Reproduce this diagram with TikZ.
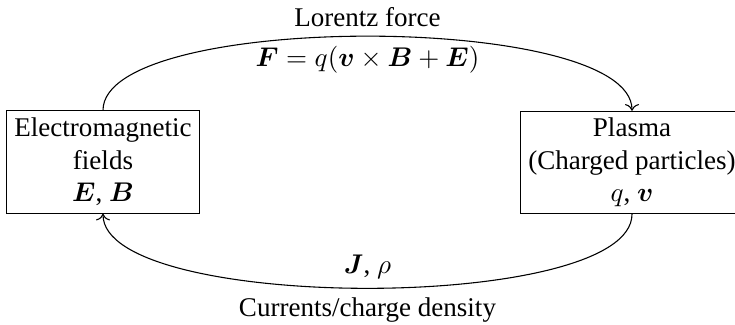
\documentclass[tikz,border=0pt]{standalone}
\usepackage{amsmath}
\usepackage{fontspec}
\setmainfont{Liberation Serif}
\usetikzlibrary{arrows.meta,positioning}
\tikzset{
  block/.style={draw, rectangle, align=center, minimum height=1.33cm, inner sep=2pt},
  arrow/.style={->},
  lbl/.style={font=\normalsize}
}

\begin{document}
\begin{tikzpicture}[x=1cm,y=1cm]
  \useasboundingbox (0,0) rectangle (9.555,4.212);
  \node[block,minimum width=2.5cm] (fields) at (1.339,2.106) {Electromagnetic\\fields\\$\boldsymbol{E}$, $\boldsymbol{B}$};
  \node[block,minimum width=2.89cm] (plasma) at (8.216,2.1) {Plasma\\(Charged particles)\\$q$, $\boldsymbol{v}$};
  \draw[arrow] (fields.north) to[out=90,in=90,looseness=0.48]
    node[above,lbl] (force) {Lorentz force}
    node[below,lbl] (law) {$\boldsymbol{F} = q(\boldsymbol{v}\times\boldsymbol{B}+\boldsymbol{E})$} (plasma.north);
  \draw[arrow] (plasma.south) to[out=-90,in=-90,looseness=0.48]
    node[above,lbl] (sources) {$\boldsymbol{J}$, $\rho$}
    node[below,lbl] (current) {Currents/charge density} (fields.south);
\end{tikzpicture}
\end{document}
